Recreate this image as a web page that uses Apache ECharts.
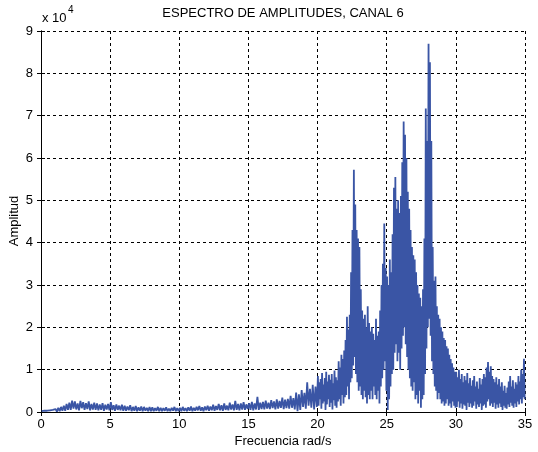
<!DOCTYPE html>
<html>
<head>
<meta charset="utf-8">
<script src="https://cdn.jsdelivr.net/npm/echarts@6/dist/echarts.min.js"></script>
<style>
  html, body { margin: 0; padding: 0; background: #fff; }
  #chart { width: 538px; height: 452px; }
</style>
</head>
<body>
<div id="chart"></div>
<script>
// Amplitude spectrum, channel 6 (amplitudes in units of 10^4).
// Each band lists, per frequency bin, the upper and lower excursion of the trace.

// Band 0–20 rad/s, 0.2 rad/s bins
const lowStart = 0, lowStep = 0.2;
const lowHi = [
  0.02, 0.03, 0.03, 0.04, 0.05, 0.07, 0.10, 0.12, 0.15, 0.19,
  0.22, 0.27, 0.25, 0.20, 0.26, 0.23, 0.21, 0.25, 0.19, 0.22,
  0.20, 0.18, 0.21, 0.17, 0.19, 0.23, 0.16, 0.18, 0.15, 0.17,
  0.15, 0.13, 0.16, 0.12, 0.14, 0.11, 0.13, 0.12, 0.10, 0.12,
  0.11, 0.09, 0.12, 0.10, 0.09, 0.11, 0.08, 0.10, 0.12, 0.09,
  0.10, 0.12, 0.09, 0.11, 0.13, 0.10, 0.12, 0.14, 0.11, 0.13,
  0.15, 0.13, 0.17, 0.14, 0.19, 0.16, 0.20, 0.15, 0.22, 0.18,
  0.26, 0.19, 0.20, 0.23, 0.18, 0.21, 0.24, 0.20, 0.36, 0.22,
  0.24, 0.27, 0.22, 0.28, 0.25, 0.30, 0.26, 0.34, 0.29, 0.31,
  0.38, 0.33, 0.46, 0.42, 0.52, 0.45, 0.70, 0.55, 0.64, 0.60
];
const lowLo = [
  0.00, 0.00, 0.01, 0.01, 0.01, 0.01, 0.02, 0.03, 0.03, 0.05,
  0.05, 0.08, 0.06, 0.04, 0.09, 0.05, 0.07, 0.04, 0.06, 0.05,
  0.04, 0.05, 0.03, 0.06, 0.04, 0.05, 0.03, 0.05, 0.04, 0.03,
  0.03, 0.04, 0.02, 0.03, 0.02, 0.03, 0.02, 0.03, 0.02, 0.02,
  0.02, 0.03, 0.02, 0.02, 0.03, 0.02, 0.02, 0.03, 0.02, 0.02,
  0.02, 0.03, 0.02, 0.03, 0.02, 0.03, 0.04, 0.03, 0.02, 0.04,
  0.03, 0.04, 0.03, 0.05, 0.04, 0.03, 0.05, 0.04, 0.06, 0.04,
  0.05, 0.04, 0.06, 0.05, 0.07, 0.05, 0.04, 0.06, 0.05, 0.07,
  0.06, 0.08, 0.07, 0.09, 0.06, 0.08, 0.10, 0.07, 0.09, 0.08,
  0.10, 0.06, 0.02, 0.05, 0.12, 0.08, 0.15, 0.10, 0.06, 0.12
];

// Band 20–30 rad/s, 0.1 rad/s bins
const peakStart = 20, peakStep = 0.1;
const peakHi = [
  0.85, 0.70, 0.78, 0.92, 0.65, 0.80, 0.95, 0.72, 0.88, 0.76,
  0.90, 0.68, 0.98, 0.82, 0.75, 1.20, 1.05, 1.35, 1.25, 1.45,
  1.70, 2.25, 1.95, 2.30, 3.30, 4.30, 5.72, 4.90, 4.30, 4.10,
  3.90, 2.90, 2.40, 2.20, 2.30, 2.00, 2.50, 2.10, 1.90, 2.00,
  1.85, 1.70, 2.20, 1.80, 1.90, 2.40, 3.00, 3.50, 4.45, 3.40,
  3.20, 3.00, 3.60, 3.30, 4.20, 5.30, 5.55, 4.80, 5.00, 4.70,
  5.10, 5.90, 6.86, 6.55, 6.00, 5.20, 4.80, 4.30, 3.90, 3.70,
  3.60, 3.30, 3.00, 2.80, 2.70, 2.50, 2.90, 4.10, 7.17, 6.40,
  8.70, 8.26, 6.40, 3.90, 3.10, 3.20, 2.50, 2.30, 2.20, 2.00,
  1.90, 1.75, 1.70, 1.55, 1.50, 1.35, 1.25, 1.15, 1.05, 0.95
];
const peakLo = [
  0.15, 0.30, 0.08, 0.20, 0.25, 0.05, 0.18, 0.30, 0.12, 0.22,
  0.06, 0.28, 0.15, 0.10, 0.25, 0.30, 0.15, 0.40, 0.20, 0.35,
  0.40, 0.60, 0.30, 0.70, 0.80, 1.10, 1.30, 0.90, 0.70, 0.50,
  0.60, 0.40, 0.30, 0.50, 0.35, 0.20, 0.40, 0.30, 0.50, 0.30,
  0.60, 0.40, 0.30, 0.50, 0.20, 0.60, 0.80, 1.00, 1.20, 0.50,
  0.05, 0.30, 0.60, 0.90, 1.00, 1.40, 1.60, 1.20, 1.40, 1.00,
  1.50, 1.80, 2.00, 1.60, 1.30, 1.00, 0.80, 0.60, 0.50, 0.70,
  0.30, 0.40, 0.20, 0.50, 0.10, 0.30, 0.40, 0.90, 1.50, 2.00,
  2.20, 1.80, 1.20, 0.90, 0.60, 0.50, 0.30, 0.45, 0.30, 0.20,
  0.25, 0.15, 0.20, 0.30, 0.15, 0.20, 0.10, 0.25, 0.15, 0.10
];

// Band 30–35 rad/s, 0.1 rad/s bins
const tailStart = 30, tailStep = 0.1;
const tailHi = [
  0.95, 0.82, 1.00, 0.78, 0.90, 0.70, 0.85, 0.75, 0.92, 0.68,
  0.80, 0.62, 0.75, 0.85, 0.60, 0.72, 0.55, 0.80, 0.65, 0.78,
  0.90, 0.82, 1.05, 1.18, 0.95, 1.08, 0.85, 0.78, 0.70, 0.82,
  0.65, 0.78, 0.60, 0.70, 0.50, 0.62, 0.45, 0.58, 0.72, 0.85,
  0.60, 0.75, 0.55, 0.70, 0.65, 0.85, 0.72, 1.00, 0.90, 1.26
];
const tailLo = [
  0.12, 0.25, 0.10, 0.20, 0.08, 0.18, 0.15, 0.05, 0.22, 0.12,
  0.20, 0.10, 0.15, 0.25, 0.08, 0.18, 0.12, 0.20, 0.05, 0.15,
  0.18, 0.10, 0.25, 0.30, 0.15, 0.20, 0.12, 0.22, 0.08, 0.18,
  0.10, 0.20, 0.12, 0.05, 0.15, 0.10, 0.08, 0.18, 0.12, 0.22,
  0.15, 0.10, 0.20, 0.12, 0.25, 0.18, 0.30, 0.20, 0.35, 0.30
];

const xTicks = [0, 5, 10, 15, 20, 25, 30, 35];
const yTicks = [0, 1, 2, 3, 4, 5, 6, 7, 8, 9];

// Inside each bin the trace swings from the upper excursion to the lower one.
const trace = [];
function addBand(start, step, hiArr, loArr) {
  hiArr.forEach((hi, i) => {
    trace.push([start + i * step + step * 0.25, hi]);
    trace.push([start + i * step + step * 0.75, loArr[i]]);
  });
}
addBand(lowStart, lowStep, lowHi, lowLo);
addBand(peakStart, peakStep, peakHi, peakLo);
addBand(tailStart, tailStep, tailHi, tailLo);

const font = 'Liberation Sans, Arial, sans-serif';
const gridL = 41, gridR = 13, gridT = 31, gridB = 40;

const boxAxis = {
  axisLine: { show: true, lineStyle: { color: '#000', width: 1 } },
  axisTick: { show: true, inside: true, length: 4, lineStyle: { color: '#000' } },
  splitLine: { show: false },
  axisLabel: { show: false }
};

const chart = echarts.init(document.getElementById('chart'), null, { renderer: 'canvas' });
chart.setOption({
  animation: false,
  backgroundColor: '#fff',
  grid: { left: gridL, right: gridR, top: gridT, bottom: gridB },
  xAxis: [
    {
      type: 'value', min: xTicks[0], max: xTicks[xTicks.length - 1], interval: 5,
      position: 'bottom',
      axisLine: { show: true, lineStyle: { color: '#000', width: 1 } },
      axisTick: { show: true, inside: true, length: 4, lineStyle: { color: '#000' } },
      axisLabel: { color: '#000', fontFamily: font, fontSize: 13, margin: 6 },
      splitLine: { show: true, lineStyle: { color: '#000', type: [3, 3], width: 1 } }
    },
    Object.assign({ type: 'value', min: 0, max: 35, interval: 5, position: 'top' }, boxAxis)
  ],
  yAxis: [
    {
      type: 'value', min: yTicks[0], max: yTicks[yTicks.length - 1], interval: 1,
      position: 'left',
      axisLine: { show: true, lineStyle: { color: '#000', width: 1 } },
      axisTick: { show: true, inside: true, length: 4, lineStyle: { color: '#000' } },
      axisLabel: { color: '#000', fontFamily: font, fontSize: 13, margin: 8 },
      splitLine: { show: true, lineStyle: { color: '#000', type: [3, 3], width: 1 } }
    },
    Object.assign({ type: 'value', min: 0, max: 9, interval: 1, position: 'right' }, boxAxis)
  ],
  series: [{
    type: 'line',
    data: trace,
    xAxisIndex: 0, yAxisIndex: 0,
    showSymbol: false,
    smooth: false,
    lineStyle: { color: '#3A55A5', width: 1.8, join: 'bevel' },
    z: 3
  }],
  graphic: [
    { type: 'text', x: 283, y: 13,
      style: { text: 'ESPECTRO DE AMPLITUDES, CANAL 6', font: '13px ' + font, fill: '#000', align: 'center', verticalAlign: 'middle' } },
    { type: 'text', x: 283, y: 441,
      style: { text: 'Frecuencia rad/s', font: '13px ' + font, fill: '#000', align: 'center', verticalAlign: 'middle' } },
    { type: 'text', x: 14, y: 221, rotation: Math.PI / 2,
      style: { text: 'Amplitud', font: '13px ' + font, fill: '#000', align: 'center', verticalAlign: 'middle' } },
    { type: 'text', x: 42, y: 18,
      style: { text: 'x 10', font: '13px ' + font, fill: '#000', align: 'left', verticalAlign: 'middle' } },
    { type: 'text', x: 68, y: 10,
      style: { text: '4', font: '10px ' + font, fill: '#000', align: 'left', verticalAlign: 'middle' } }
  ]
});
</script>
</body>
</html>
